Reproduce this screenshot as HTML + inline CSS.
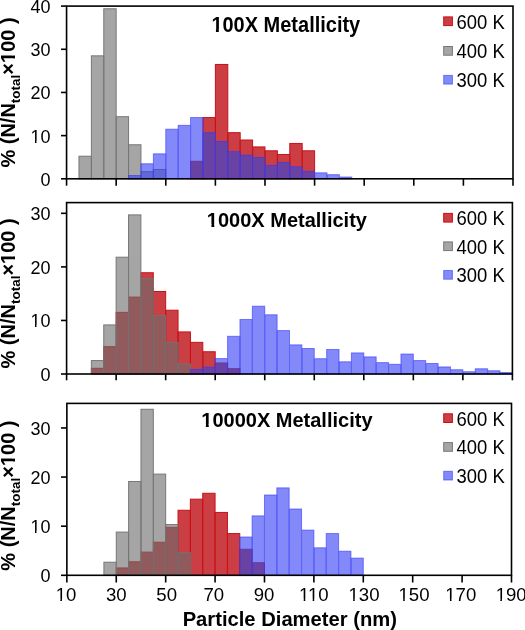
<!DOCTYPE html>
<html><head><meta charset="utf-8"><style>
html,body{margin:0;padding:0;background:#fff;}
svg{display:block;will-change:transform;}
text{font-family:"Liberation Sans", sans-serif;}
</style></head><body>
<svg width="525" height="630" viewBox="0 0 525 630">
<g opacity="1.0" fill="rgb(203,62,67)"><rect x="190.58" y="161.30" width="12.40" height="17.50"/><rect x="202.98" y="117.56" width="12.40" height="61.24"/><rect x="215.38" y="64.45" width="12.40" height="114.35"/><rect x="227.78" y="132.67" width="12.40" height="46.13"/><rect x="240.18" y="140.01" width="12.40" height="38.79"/><rect x="252.58" y="146.92" width="12.40" height="31.88"/><rect x="264.98" y="150.80" width="12.40" height="28.00"/><rect x="277.38" y="154.47" width="12.40" height="24.33"/><rect x="289.78" y="143.46" width="12.40" height="35.34"/><rect x="302.19" y="150.80" width="12.40" height="28.00"/></g>
<g opacity="1.0" fill="none" stroke="rgb(200,18,24)" stroke-width="1"><rect x="190.58" y="161.30" width="12.40" height="17.50"/><rect x="202.98" y="117.56" width="12.40" height="61.24"/><rect x="215.38" y="64.45" width="12.40" height="114.35"/><rect x="227.78" y="132.67" width="12.40" height="46.13"/><rect x="240.18" y="140.01" width="12.40" height="38.79"/><rect x="252.58" y="146.92" width="12.40" height="31.88"/><rect x="264.98" y="150.80" width="12.40" height="28.00"/><rect x="277.38" y="154.47" width="12.40" height="24.33"/><rect x="289.78" y="143.46" width="12.40" height="35.34"/><rect x="302.19" y="150.80" width="12.40" height="28.00"/></g>
<g opacity="0.61" fill="rgb(109,109,109)"><rect x="78.97" y="156.20" width="12.40" height="22.60"/><rect x="91.37" y="55.82" width="12.40" height="122.98"/><rect x="103.77" y="8.76" width="12.40" height="170.04"/><rect x="116.17" y="116.70" width="12.40" height="62.10"/><rect x="128.57" y="144.76" width="12.40" height="34.04"/><rect x="140.97" y="171.70" width="12.40" height="7.10"/><rect x="153.38" y="169.50" width="12.40" height="9.30"/></g>
<g opacity="0.95" fill="none" stroke="rgb(115,115,115)" stroke-width="1"><rect x="78.97" y="156.20" width="12.40" height="22.60"/><rect x="91.37" y="55.82" width="12.40" height="122.98"/><rect x="103.77" y="8.76" width="12.40" height="170.04"/><rect x="116.17" y="116.70" width="12.40" height="62.10"/><rect x="128.57" y="144.76" width="12.40" height="34.04"/><rect x="140.97" y="171.70" width="12.40" height="7.10"/><rect x="153.38" y="169.50" width="12.40" height="9.30"/></g>
<g opacity="0.62" fill="rgb(55,66,245)"><rect x="128.57" y="175.50" width="12.40" height="3.30"/><rect x="140.97" y="163.76" width="12.40" height="15.04"/><rect x="153.38" y="153.83" width="12.40" height="24.97"/><rect x="165.78" y="129.22" width="12.40" height="49.58"/><rect x="178.18" y="125.33" width="12.40" height="53.47"/><rect x="190.58" y="117.56" width="12.40" height="61.24"/><rect x="202.98" y="132.67" width="12.40" height="46.13"/><rect x="215.38" y="141.52" width="12.40" height="37.28"/><rect x="227.78" y="151.67" width="12.40" height="27.13"/><rect x="240.18" y="155.12" width="12.40" height="23.68"/><rect x="252.58" y="157.50" width="12.40" height="21.30"/><rect x="264.98" y="165.48" width="12.40" height="13.32"/><rect x="277.38" y="162.46" width="12.40" height="16.34"/><rect x="289.78" y="166.78" width="12.40" height="12.02"/><rect x="302.19" y="171.31" width="12.40" height="7.49"/><rect x="314.59" y="172.82" width="12.40" height="5.98"/><rect x="326.99" y="174.68" width="12.40" height="4.12"/><rect x="339.39" y="177.01" width="12.40" height="1.79"/></g>
<g opacity="0.5" fill="rgb(99,70,153)"><rect x="190.58" y="161.30" width="12.40" height="17.50"/><rect x="202.98" y="132.67" width="12.40" height="46.13"/><rect x="215.38" y="141.52" width="12.40" height="37.28"/><rect x="227.78" y="151.67" width="12.40" height="27.13"/><rect x="240.18" y="155.12" width="12.40" height="23.68"/><rect x="252.58" y="157.50" width="12.40" height="21.30"/><rect x="264.98" y="165.48" width="12.40" height="13.32"/><rect x="277.38" y="162.46" width="12.40" height="16.34"/><rect x="289.78" y="166.78" width="12.40" height="12.02"/><rect x="302.19" y="171.31" width="12.40" height="7.49"/></g>
<g opacity="0.6" fill="none" stroke="rgb(50,55,250)" stroke-width="1"><rect x="128.57" y="175.50" width="12.40" height="3.30"/><rect x="140.97" y="163.76" width="12.40" height="15.04"/><rect x="153.38" y="153.83" width="12.40" height="24.97"/><rect x="165.78" y="129.22" width="12.40" height="49.58"/><rect x="178.18" y="125.33" width="12.40" height="53.47"/><rect x="190.58" y="117.56" width="12.40" height="61.24"/><rect x="202.98" y="132.67" width="12.40" height="46.13"/><rect x="215.38" y="141.52" width="12.40" height="37.28"/><rect x="227.78" y="151.67" width="12.40" height="27.13"/><rect x="240.18" y="155.12" width="12.40" height="23.68"/><rect x="252.58" y="157.50" width="12.40" height="21.30"/><rect x="264.98" y="165.48" width="12.40" height="13.32"/><rect x="277.38" y="162.46" width="12.40" height="16.34"/><rect x="289.78" y="166.78" width="12.40" height="12.02"/><rect x="302.19" y="171.31" width="12.40" height="7.49"/><rect x="314.59" y="172.82" width="12.40" height="5.98"/><rect x="326.99" y="174.68" width="12.40" height="4.12"/><rect x="339.39" y="177.01" width="12.40" height="1.79"/></g>
<rect x="66.57" y="6.1" width="446.43" height="172.70000000000002" fill="none" stroke="#000" stroke-width="1.6"/>
<line x1="61" y1="178.80" x2="66.57" y2="178.80" stroke="#000" stroke-width="1.6"/><text x="50.5" y="185.70" font-size="18" text-anchor="end">0</text><line x1="61" y1="135.62" x2="66.57" y2="135.62" stroke="#000" stroke-width="1.6"/><text x="50.5" y="142.53" font-size="18" text-anchor="end">10</text><line x1="61" y1="92.45" x2="66.57" y2="92.45" stroke="#000" stroke-width="1.6"/><text x="50.5" y="99.35" font-size="18" text-anchor="end">20</text><line x1="61" y1="49.28" x2="66.57" y2="49.28" stroke="#000" stroke-width="1.6"/><text x="50.5" y="56.18" font-size="18" text-anchor="end">30</text><line x1="61" y1="6.10" x2="66.57" y2="6.10" stroke="#000" stroke-width="1.6"/><text x="50.5" y="13.00" font-size="18" text-anchor="end">40</text><line x1="66.57" y1="178.8" x2="66.57" y2="185.70" stroke="#000" stroke-width="1.6"/><line x1="116.17" y1="178.8" x2="116.17" y2="185.70" stroke="#000" stroke-width="1.6"/><line x1="165.78" y1="178.8" x2="165.78" y2="185.70" stroke="#000" stroke-width="1.6"/><line x1="215.38" y1="178.8" x2="215.38" y2="185.70" stroke="#000" stroke-width="1.6"/><line x1="264.98" y1="178.8" x2="264.98" y2="185.70" stroke="#000" stroke-width="1.6"/><line x1="314.59" y1="178.8" x2="314.59" y2="185.70" stroke="#000" stroke-width="1.6"/><line x1="364.19" y1="178.8" x2="364.19" y2="185.70" stroke="#000" stroke-width="1.6"/><line x1="413.79" y1="178.8" x2="413.79" y2="185.70" stroke="#000" stroke-width="1.6"/><line x1="463.40" y1="178.8" x2="463.40" y2="185.70" stroke="#000" stroke-width="1.6"/><line x1="513.00" y1="178.8" x2="513.00" y2="185.70" stroke="#000" stroke-width="1.6"/>
<text transform="translate(285.8,32) scale(0.9434,1)" font-size="21.2" font-weight="bold" text-anchor="middle">100X Metallicity</text>
<rect x="443.7" y="16.90" width="8.7" height="8.7" fill="rgb(203,62,67)" opacity="1.0"/><rect x="443.7" y="16.90" width="8.7" height="8.7" fill="none" opacity="1.0" stroke="rgb(200,18,24)" stroke-width="1"/><text transform="translate(456.5,28.70) scale(0.951,1)" font-size="19.4">600 K</text><rect x="443.7" y="46.50" width="8.7" height="8.7" fill="rgb(109,109,109)" opacity="0.61"/><rect x="443.7" y="46.50" width="8.7" height="8.7" fill="none" opacity="0.95" stroke="rgb(115,115,115)" stroke-width="1"/><text transform="translate(456.5,58.30) scale(0.951,1)" font-size="19.4">400 K</text><rect x="443.7" y="75.40" width="8.7" height="8.7" fill="rgb(55,66,245)" opacity="0.62"/><rect x="443.7" y="75.40" width="8.7" height="8.7" fill="none" opacity="0.6" stroke="rgb(50,55,250)" stroke-width="1"/><text transform="translate(456.5,87.20) scale(0.951,1)" font-size="19.4">300 K</text>
<text transform="translate(15.3,92.5) rotate(-90)" font-size="20" font-weight="bold" text-anchor="middle">% (N/N<tspan font-size="13.5" dy="5">total</tspan><tspan dy="-5">×100 )</tspan></text>
<g opacity="1.0" fill="rgb(203,62,67)"><rect x="91.37" y="368.29" width="12.38" height="5.71"/><rect x="103.75" y="346.65" width="12.38" height="27.35"/><rect x="116.13" y="312.37" width="12.38" height="61.63"/><rect x="128.52" y="297.11" width="12.38" height="76.89"/><rect x="140.90" y="272.74" width="12.38" height="101.26"/><rect x="153.28" y="291.48" width="12.38" height="82.52"/><rect x="165.67" y="310.23" width="12.38" height="63.77"/><rect x="178.05" y="331.92" width="12.38" height="42.08"/><rect x="190.43" y="342.36" width="12.38" height="31.64"/><rect x="202.82" y="351.74" width="12.38" height="22.26"/><rect x="215.20" y="362.98" width="12.38" height="11.02"/><rect x="227.58" y="368.72" width="12.38" height="5.28"/></g>
<g opacity="1.0" fill="none" stroke="rgb(200,18,24)" stroke-width="1"><rect x="91.37" y="368.29" width="12.38" height="5.71"/><rect x="103.75" y="346.65" width="12.38" height="27.35"/><rect x="116.13" y="312.37" width="12.38" height="61.63"/><rect x="128.52" y="297.11" width="12.38" height="76.89"/><rect x="140.90" y="272.74" width="12.38" height="101.26"/><rect x="153.28" y="291.48" width="12.38" height="82.52"/><rect x="165.67" y="310.23" width="12.38" height="63.77"/><rect x="178.05" y="331.92" width="12.38" height="42.08"/><rect x="190.43" y="342.36" width="12.38" height="31.64"/><rect x="202.82" y="351.74" width="12.38" height="22.26"/><rect x="215.20" y="362.98" width="12.38" height="11.02"/><rect x="227.58" y="368.72" width="12.38" height="5.28"/></g>
<g opacity="0.61" fill="rgb(109,109,109)"><rect x="91.37" y="360.57" width="12.38" height="13.43"/><rect x="103.75" y="324.90" width="12.38" height="49.10"/><rect x="116.13" y="257.20" width="12.38" height="116.80"/><rect x="128.52" y="214.89" width="12.38" height="159.11"/><rect x="140.90" y="278.63" width="12.38" height="95.37"/><rect x="153.28" y="315.58" width="12.38" height="58.42"/><rect x="165.67" y="342.36" width="12.38" height="31.64"/><rect x="178.05" y="363.90" width="12.38" height="10.10"/></g>
<g opacity="0.95" fill="none" stroke="rgb(115,115,115)" stroke-width="1"><rect x="91.37" y="360.57" width="12.38" height="13.43"/><rect x="103.75" y="324.90" width="12.38" height="49.10"/><rect x="116.13" y="257.20" width="12.38" height="116.80"/><rect x="128.52" y="214.89" width="12.38" height="159.11"/><rect x="140.90" y="278.63" width="12.38" height="95.37"/><rect x="153.28" y="315.58" width="12.38" height="58.42"/><rect x="165.67" y="342.36" width="12.38" height="31.64"/><rect x="178.05" y="363.90" width="12.38" height="10.10"/></g>
<g opacity="0.62" fill="rgb(55,66,245)"><rect x="190.43" y="369.52" width="12.38" height="4.48"/><rect x="202.82" y="367.22" width="12.38" height="6.78"/><rect x="215.20" y="358.59" width="12.38" height="15.41"/><rect x="227.58" y="336.31" width="12.38" height="37.69"/><rect x="239.97" y="319.49" width="12.38" height="54.51"/><rect x="252.35" y="306.21" width="12.38" height="67.79"/><rect x="264.73" y="314.78" width="12.38" height="59.22"/><rect x="277.12" y="330.58" width="12.38" height="43.42"/><rect x="289.50" y="344.88" width="12.38" height="29.12"/><rect x="301.88" y="348.52" width="12.38" height="25.48"/><rect x="314.27" y="358.70" width="12.38" height="15.30"/><rect x="326.65" y="349.49" width="12.38" height="24.51"/><rect x="339.03" y="361.81" width="12.38" height="12.19"/><rect x="351.42" y="352.92" width="12.38" height="21.08"/><rect x="363.80" y="356.88" width="12.38" height="17.12"/><rect x="376.18" y="362.61" width="12.38" height="11.39"/><rect x="388.57" y="364.32" width="12.38" height="9.68"/><rect x="400.95" y="354.04" width="12.38" height="19.96"/><rect x="413.33" y="360.57" width="12.38" height="13.43"/><rect x="425.72" y="363.52" width="12.38" height="10.48"/><rect x="438.10" y="366.95" width="12.38" height="7.05"/><rect x="450.48" y="369.73" width="12.38" height="4.27"/><rect x="462.87" y="371.71" width="12.38" height="2.29"/><rect x="475.25" y="368.77" width="12.38" height="5.23"/><rect x="487.63" y="370.75" width="12.38" height="3.25"/><rect x="500.02" y="372.52" width="12.38" height="1.48"/></g>
<g opacity="0.5" fill="rgb(99,70,153)"><rect x="190.43" y="369.52" width="12.38" height="4.48"/><rect x="202.82" y="367.22" width="12.38" height="6.78"/><rect x="215.20" y="362.98" width="12.38" height="11.02"/><rect x="227.58" y="368.72" width="12.38" height="5.28"/></g>
<g opacity="0.6" fill="none" stroke="rgb(50,55,250)" stroke-width="1"><rect x="190.43" y="369.52" width="12.38" height="4.48"/><rect x="202.82" y="367.22" width="12.38" height="6.78"/><rect x="215.20" y="358.59" width="12.38" height="15.41"/><rect x="227.58" y="336.31" width="12.38" height="37.69"/><rect x="239.97" y="319.49" width="12.38" height="54.51"/><rect x="252.35" y="306.21" width="12.38" height="67.79"/><rect x="264.73" y="314.78" width="12.38" height="59.22"/><rect x="277.12" y="330.58" width="12.38" height="43.42"/><rect x="289.50" y="344.88" width="12.38" height="29.12"/><rect x="301.88" y="348.52" width="12.38" height="25.48"/><rect x="314.27" y="358.70" width="12.38" height="15.30"/><rect x="326.65" y="349.49" width="12.38" height="24.51"/><rect x="339.03" y="361.81" width="12.38" height="12.19"/><rect x="351.42" y="352.92" width="12.38" height="21.08"/><rect x="363.80" y="356.88" width="12.38" height="17.12"/><rect x="376.18" y="362.61" width="12.38" height="11.39"/><rect x="388.57" y="364.32" width="12.38" height="9.68"/><rect x="400.95" y="354.04" width="12.38" height="19.96"/><rect x="413.33" y="360.57" width="12.38" height="13.43"/><rect x="425.72" y="363.52" width="12.38" height="10.48"/><rect x="438.10" y="366.95" width="12.38" height="7.05"/><rect x="450.48" y="369.73" width="12.38" height="4.27"/><rect x="462.87" y="371.71" width="12.38" height="2.29"/><rect x="475.25" y="368.77" width="12.38" height="5.23"/><rect x="487.63" y="370.75" width="12.38" height="3.25"/><rect x="500.02" y="372.52" width="12.38" height="1.48"/></g>
<rect x="66.6" y="202.6" width="445.79999999999995" height="171.4" fill="none" stroke="#000" stroke-width="1.6"/>
<line x1="61" y1="374.00" x2="66.6" y2="374.00" stroke="#000" stroke-width="1.6"/><text x="50.5" y="380.90" font-size="18" text-anchor="end">0</text><line x1="61" y1="320.44" x2="66.6" y2="320.44" stroke="#000" stroke-width="1.6"/><text x="50.5" y="327.34" font-size="18" text-anchor="end">10</text><line x1="61" y1="266.88" x2="66.6" y2="266.88" stroke="#000" stroke-width="1.6"/><text x="50.5" y="273.78" font-size="18" text-anchor="end">20</text><line x1="61" y1="213.32" x2="66.6" y2="213.32" stroke="#000" stroke-width="1.6"/><text x="50.5" y="220.22" font-size="18" text-anchor="end">30</text><line x1="66.60" y1="374.0" x2="66.60" y2="380.30" stroke="#000" stroke-width="1.6"/><line x1="116.13" y1="374.0" x2="116.13" y2="380.30" stroke="#000" stroke-width="1.6"/><line x1="165.67" y1="374.0" x2="165.67" y2="380.30" stroke="#000" stroke-width="1.6"/><line x1="215.20" y1="374.0" x2="215.20" y2="380.30" stroke="#000" stroke-width="1.6"/><line x1="264.73" y1="374.0" x2="264.73" y2="380.30" stroke="#000" stroke-width="1.6"/><line x1="314.27" y1="374.0" x2="314.27" y2="380.30" stroke="#000" stroke-width="1.6"/><line x1="363.80" y1="374.0" x2="363.80" y2="380.30" stroke="#000" stroke-width="1.6"/><line x1="413.33" y1="374.0" x2="413.33" y2="380.30" stroke="#000" stroke-width="1.6"/><line x1="462.87" y1="374.0" x2="462.87" y2="380.30" stroke="#000" stroke-width="1.6"/><line x1="512.40" y1="374.0" x2="512.40" y2="380.30" stroke="#000" stroke-width="1.6"/>
<text transform="translate(286.9,227) scale(1.0000,1)" font-size="20" font-weight="bold" text-anchor="middle">1000X Metallicity</text>
<rect x="443.7" y="213.40" width="8.7" height="8.7" fill="rgb(203,62,67)" opacity="1.0"/><rect x="443.7" y="213.40" width="8.7" height="8.7" fill="none" opacity="1.0" stroke="rgb(200,18,24)" stroke-width="1"/><text transform="translate(456.5,225.20) scale(0.951,1)" font-size="19.4">600 K</text><rect x="443.7" y="241.90" width="8.7" height="8.7" fill="rgb(109,109,109)" opacity="0.61"/><rect x="443.7" y="241.90" width="8.7" height="8.7" fill="none" opacity="0.95" stroke="rgb(115,115,115)" stroke-width="1"/><text transform="translate(456.5,253.70) scale(0.951,1)" font-size="19.4">400 K</text><rect x="443.7" y="270.50" width="8.7" height="8.7" fill="rgb(55,66,245)" opacity="0.62"/><rect x="443.7" y="270.50" width="8.7" height="8.7" fill="none" opacity="0.6" stroke="rgb(50,55,250)" stroke-width="1"/><text transform="translate(456.5,282.30) scale(0.951,1)" font-size="19.4">300 K</text>
<text transform="translate(15.3,293.4) rotate(-90)" font-size="20" font-weight="bold" text-anchor="middle">% (N/N<tspan font-size="13.5" dy="5">total</tspan><tspan dy="-5">×100 )</tspan></text>
<g opacity="1.0" fill="rgb(203,62,67)"><rect x="116.26" y="567.94" width="12.35" height="7.36"/><rect x="128.62" y="561.80" width="12.35" height="13.50"/><rect x="140.97" y="552.12" width="12.35" height="23.18"/><rect x="153.32" y="542.25" width="12.35" height="33.05"/><rect x="165.67" y="527.37" width="12.35" height="47.93"/><rect x="178.02" y="510.27" width="12.35" height="65.03"/><rect x="190.37" y="499.17" width="12.35" height="76.13"/><rect x="202.72" y="493.28" width="12.35" height="82.02"/><rect x="215.07" y="512.44" width="12.35" height="62.86"/><rect x="227.42" y="533.56" width="12.35" height="41.74"/><rect x="239.78" y="549.28" width="12.35" height="26.02"/><rect x="252.13" y="562.78" width="12.35" height="12.52"/></g>
<g opacity="1.0" fill="none" stroke="rgb(200,18,24)" stroke-width="1"><rect x="116.26" y="567.94" width="12.35" height="7.36"/><rect x="128.62" y="561.80" width="12.35" height="13.50"/><rect x="140.97" y="552.12" width="12.35" height="23.18"/><rect x="153.32" y="542.25" width="12.35" height="33.05"/><rect x="165.67" y="527.37" width="12.35" height="47.93"/><rect x="178.02" y="510.27" width="12.35" height="65.03"/><rect x="190.37" y="499.17" width="12.35" height="76.13"/><rect x="202.72" y="493.28" width="12.35" height="82.02"/><rect x="215.07" y="512.44" width="12.35" height="62.86"/><rect x="227.42" y="533.56" width="12.35" height="41.74"/><rect x="239.78" y="549.28" width="12.35" height="26.02"/><rect x="252.13" y="562.78" width="12.35" height="12.52"/></g>
<g opacity="0.61" fill="rgb(109,109,109)"><rect x="103.91" y="562.19" width="12.35" height="13.11"/><rect x="116.26" y="532.08" width="12.35" height="43.22"/><rect x="128.62" y="481.49" width="12.35" height="93.81"/><rect x="140.97" y="409.28" width="12.35" height="166.02"/><rect x="153.32" y="474.12" width="12.35" height="101.18"/><rect x="165.67" y="524.57" width="12.35" height="50.73"/><rect x="178.02" y="552.71" width="12.35" height="22.59"/></g>
<g opacity="0.95" fill="none" stroke="rgb(115,115,115)" stroke-width="1"><rect x="103.91" y="562.19" width="12.35" height="13.11"/><rect x="116.26" y="532.08" width="12.35" height="43.22"/><rect x="128.62" y="481.49" width="12.35" height="93.81"/><rect x="140.97" y="409.28" width="12.35" height="166.02"/><rect x="153.32" y="474.12" width="12.35" height="101.18"/><rect x="165.67" y="524.57" width="12.35" height="50.73"/><rect x="178.02" y="552.71" width="12.35" height="22.59"/></g>
<g opacity="0.62" fill="rgb(55,66,245)"><rect x="239.78" y="537.00" width="12.35" height="38.30"/><rect x="252.13" y="515.87" width="12.35" height="59.43"/><rect x="264.48" y="495.00" width="12.35" height="80.30"/><rect x="276.83" y="487.88" width="12.35" height="87.42"/><rect x="289.18" y="509.00" width="12.35" height="66.30"/><rect x="301.53" y="530.12" width="12.35" height="45.18"/><rect x="313.88" y="547.80" width="12.35" height="27.50"/><rect x="326.23" y="533.56" width="12.35" height="41.74"/><rect x="338.58" y="551.24" width="12.35" height="24.06"/><rect x="350.94" y="558.12" width="12.35" height="17.18"/></g>
<g opacity="0.5" fill="rgb(99,70,153)"><rect x="239.78" y="549.28" width="12.35" height="26.02"/><rect x="252.13" y="562.78" width="12.35" height="12.52"/></g>
<g opacity="0.6" fill="none" stroke="rgb(50,55,250)" stroke-width="1"><rect x="239.78" y="537.00" width="12.35" height="38.30"/><rect x="252.13" y="515.87" width="12.35" height="59.43"/><rect x="264.48" y="495.00" width="12.35" height="80.30"/><rect x="276.83" y="487.88" width="12.35" height="87.42"/><rect x="289.18" y="509.00" width="12.35" height="66.30"/><rect x="301.53" y="530.12" width="12.35" height="45.18"/><rect x="313.88" y="547.80" width="12.35" height="27.50"/><rect x="326.23" y="533.56" width="12.35" height="41.74"/><rect x="338.58" y="551.24" width="12.35" height="24.06"/><rect x="350.94" y="558.12" width="12.35" height="17.18"/></g>
<rect x="66.86" y="403.4" width="444.64" height="171.89999999999998" fill="none" stroke="#000" stroke-width="1.6"/>
<line x1="61" y1="575.30" x2="66.86" y2="575.30" stroke="#000" stroke-width="1.6"/><text x="50.5" y="582.20" font-size="18" text-anchor="end">0</text><line x1="61" y1="526.18" x2="66.86" y2="526.18" stroke="#000" stroke-width="1.6"/><text x="50.5" y="533.08" font-size="18" text-anchor="end">10</text><line x1="61" y1="477.06" x2="66.86" y2="477.06" stroke="#000" stroke-width="1.6"/><text x="50.5" y="483.96" font-size="18" text-anchor="end">20</text><line x1="61" y1="427.94" x2="66.86" y2="427.94" stroke="#000" stroke-width="1.6"/><text x="50.5" y="434.84" font-size="18" text-anchor="end">30</text><line x1="66.86" y1="575.3" x2="66.86" y2="582.50" stroke="#000" stroke-width="1.6"/><line x1="116.26" y1="575.3" x2="116.26" y2="582.50" stroke="#000" stroke-width="1.6"/><line x1="165.67" y1="575.3" x2="165.67" y2="582.50" stroke="#000" stroke-width="1.6"/><line x1="215.07" y1="575.3" x2="215.07" y2="582.50" stroke="#000" stroke-width="1.6"/><line x1="264.48" y1="575.3" x2="264.48" y2="582.50" stroke="#000" stroke-width="1.6"/><line x1="313.88" y1="575.3" x2="313.88" y2="582.50" stroke="#000" stroke-width="1.6"/><line x1="363.29" y1="575.3" x2="363.29" y2="582.50" stroke="#000" stroke-width="1.6"/><line x1="412.69" y1="575.3" x2="412.69" y2="582.50" stroke="#000" stroke-width="1.6"/><line x1="462.10" y1="575.3" x2="462.10" y2="582.50" stroke="#000" stroke-width="1.6"/><line x1="511.50" y1="575.3" x2="511.50" y2="582.50" stroke="#000" stroke-width="1.6"/>
<text transform="translate(286.9,427) scale(1.0000,1)" font-size="20" font-weight="bold" text-anchor="middle">10000X Metallicity</text>
<rect x="443.7" y="413.80" width="8.7" height="8.7" fill="rgb(203,62,67)" opacity="1.0"/><rect x="443.7" y="413.80" width="8.7" height="8.7" fill="none" opacity="1.0" stroke="rgb(200,18,24)" stroke-width="1"/><text transform="translate(456.5,425.60) scale(0.951,1)" font-size="19.4">600 K</text><rect x="443.7" y="442.60" width="8.7" height="8.7" fill="rgb(109,109,109)" opacity="0.61"/><rect x="443.7" y="442.60" width="8.7" height="8.7" fill="none" opacity="0.95" stroke="rgb(115,115,115)" stroke-width="1"/><text transform="translate(456.5,454.40) scale(0.951,1)" font-size="19.4">400 K</text><rect x="443.7" y="471.30" width="8.7" height="8.7" fill="rgb(55,66,245)" opacity="0.62"/><rect x="443.7" y="471.30" width="8.7" height="8.7" fill="none" opacity="0.6" stroke="rgb(50,55,250)" stroke-width="1"/><text transform="translate(456.5,483.10) scale(0.951,1)" font-size="19.4">300 K</text>
<text transform="translate(15.3,495.6) rotate(-90)" font-size="20" font-weight="bold" text-anchor="middle">% (N/N<tspan font-size="13.5" dy="5">total</tspan><tspan dy="-5">×100 )</tspan></text>
<text x="66.06" y="601" font-size="18.6" text-anchor="middle">10</text><text x="116.26" y="601" font-size="18.6" text-anchor="middle">30</text><text x="166.67" y="601" font-size="18.6" text-anchor="middle">50</text><text x="213.77" y="601" font-size="18.6" text-anchor="middle">70</text><text x="263.98" y="601" font-size="18.6" text-anchor="middle">90</text><text x="313.88" y="601" font-size="18.6" text-anchor="middle">110</text><text x="363.99" y="601" font-size="18.6" text-anchor="middle">130</text><text x="413.99" y="601" font-size="18.6" text-anchor="middle">150</text><text x="460.80" y="601" font-size="18.6" text-anchor="middle">170</text><text x="511.20" y="601" font-size="18.6" text-anchor="middle">190</text>
<text x="289.8" y="626.1" font-size="20.2" font-weight="bold" text-anchor="middle">Particle Diameter (nm)</text>
<g><rect x="30.83" y="140.83" width="4.14" height="2.77" fill="#fff"/><rect x="36.50" y="140.83" width="3.51" height="2.77" fill="#fff"/><rect transform="translate(285.8,32) scale(0.9434,1)" x="-78.90" y="-3.01" width="4.83" height="3.61" fill="#fff"/><rect transform="translate(285.8,32) scale(0.9434,1)" x="-71.01" y="-3.01" width="4.30" height="3.61" fill="#fff"/><rect transform="translate(15.3,92.5) rotate(-90)" x="29.52" y="-2.90" width="4.56" height="3.50" fill="#fff"/><rect transform="translate(15.3,92.5) rotate(-90)" x="36.96" y="-2.90" width="4.06" height="3.50" fill="#fff"/><rect x="30.83" y="324.83" width="4.14" height="2.77" fill="#fff"/><rect x="36.50" y="324.83" width="3.51" height="2.77" fill="#fff"/><rect transform="translate(286.9,227) scale(1.0000,1)" x="-80.05" y="-2.90" width="4.56" height="3.50" fill="#fff"/><rect transform="translate(286.9,227) scale(1.0000,1)" x="-72.61" y="-2.90" width="4.06" height="3.50" fill="#fff"/><rect transform="translate(15.3,293.4) rotate(-90)" x="29.52" y="-2.90" width="4.56" height="3.50" fill="#fff"/><rect transform="translate(15.3,293.4) rotate(-90)" x="36.96" y="-2.90" width="4.06" height="3.50" fill="#fff"/><rect x="30.83" y="530.83" width="4.14" height="2.77" fill="#fff"/><rect x="36.50" y="530.83" width="3.51" height="2.77" fill="#fff"/><rect transform="translate(286.9,427) scale(1.0000,1)" x="-85.61" y="-2.90" width="4.56" height="3.50" fill="#fff"/><rect transform="translate(286.9,427) scale(1.0000,1)" x="-78.17" y="-2.90" width="4.06" height="3.50" fill="#fff"/><rect transform="translate(15.3,495.6) rotate(-90)" x="29.52" y="-2.90" width="4.56" height="3.50" fill="#fff"/><rect transform="translate(15.3,495.6) rotate(-90)" x="36.96" y="-2.90" width="4.06" height="3.50" fill="#fff"/><rect x="56.09" y="598.79" width="4.28" height="2.81" fill="#fff"/><rect x="61.95" y="598.79" width="3.63" height="2.81" fill="#fff"/><rect x="299.42" y="598.79" width="4.28" height="2.81" fill="#fff"/><rect x="305.28" y="598.79" width="3.63" height="2.81" fill="#fff"/><rect x="308.38" y="598.79" width="4.28" height="2.81" fill="#fff"/><rect x="314.24" y="598.79" width="3.63" height="2.81" fill="#fff"/><rect x="348.85" y="598.79" width="4.28" height="2.81" fill="#fff"/><rect x="354.71" y="598.79" width="3.63" height="2.81" fill="#fff"/><rect x="398.85" y="598.79" width="4.28" height="2.81" fill="#fff"/><rect x="404.71" y="598.79" width="3.63" height="2.81" fill="#fff"/><rect x="445.66" y="598.79" width="4.28" height="2.81" fill="#fff"/><rect x="451.52" y="598.79" width="3.63" height="2.81" fill="#fff"/><rect x="496.06" y="598.79" width="4.28" height="2.81" fill="#fff"/><rect x="501.92" y="598.79" width="3.63" height="2.81" fill="#fff"/></g>
</svg>
</body></html>
